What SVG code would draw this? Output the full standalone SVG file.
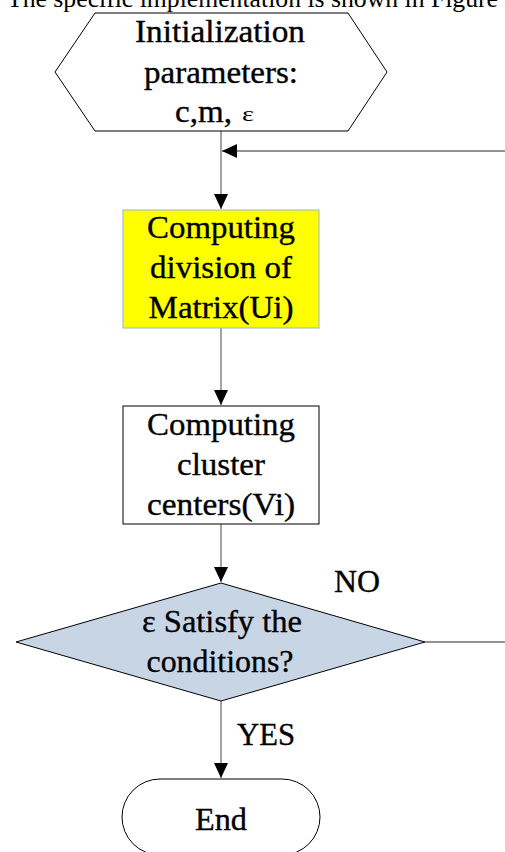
<svg xmlns="http://www.w3.org/2000/svg" width="505" height="852" viewBox="0 0 505 852" font-family="'Liberation Serif', 'Times New Roman', Tinos, 'DejaVu Serif', serif">
<style>
  text { font-family: 'Liberation Serif', 'Times New Roman', Tinos, 'DejaVu Serif', serif; fill: #000; }
  .t { font-size: 32px; text-anchor: middle; stroke: #000; stroke-width: 0.35; }
  .l { font-size: 32px; stroke: #000; stroke-width: 0.35; }
  .shape { stroke: #000; stroke-width: 1; }
  .conn { fill: none; stroke: #707070; stroke-width: 1.3; }
</style>
<defs>
  <marker id="arrow" markerUnits="userSpaceOnUse" markerWidth="16" markerHeight="14" refX="15" refY="7" orient="auto">
    <path d="M0,0 L15,7 L0,14 Z" fill="#000"/>
  </marker>
</defs>
<rect width="505" height="852" fill="#fff"/>
<text x="7" y="6.5" font-size="26" textLength="491" lengthAdjust="spacingAndGlyphs">The specific implementation is shown in Figure</text>

<g id="connectors">
  <path class="conn" d="M221,131 V209" marker-end="url(#arrow)"/>
  <path class="conn" d="M425,642 H512 V151 H222" marker-end="url(#arrow)"/>
  <path class="conn" d="M221,328 V405" marker-end="url(#arrow)"/>
  <path class="conn" d="M221,524 V582" marker-end="url(#arrow)"/>
  <path class="conn" d="M221,701 V778" marker-end="url(#arrow)"/>
</g>

<g id="init">
  <polygon class="shape" fill="#fff" points="55,72 95,13 348,13 387,72 348,131 95,131"/>
  <text class="t" x="220" y="42" textLength="170" lengthAdjust="spacingAndGlyphs">Initialization</text>
  <text class="t" x="221" y="83" textLength="154" lengthAdjust="spacingAndGlyphs">parameters:</text>
  <text class="l" x="175" y="122" textLength="57" lengthAdjust="spacingAndGlyphs">c,m,</text>
  <text x="242" y="121" font-size="20" textLength="12" lengthAdjust="spacingAndGlyphs">ε</text>
</g>

<g id="matrix">
  <rect x="123" y="210" width="196" height="118" fill="#ffff00" stroke="#95b3d7" stroke-width="1"/>
  <text class="t" x="221" y="238" textLength="148" lengthAdjust="spacingAndGlyphs">Computing</text>
  <text class="t" x="221" y="278" textLength="142" lengthAdjust="spacingAndGlyphs">division of</text>
  <text class="t" x="221" y="318" textLength="145" lengthAdjust="spacingAndGlyphs">Matrix(Ui)</text>
</g>

<g id="centers">
  <rect class="shape" x="123" y="406" width="196" height="118" fill="#fff"/>
  <text class="t" x="221" y="435" textLength="148" lengthAdjust="spacingAndGlyphs">Computing</text>
  <text class="t" x="221" y="475" textLength="88" lengthAdjust="spacingAndGlyphs">cluster</text>
  <text class="t" x="221" y="515" textLength="148" lengthAdjust="spacingAndGlyphs">centers(Vi)</text>
</g>

<g id="decision">
  <polygon class="shape" fill="#c8d5e5" points="221,583 425,642 221,701 16,642"/>
  <text class="t" x="222" y="632" textLength="160" lengthAdjust="spacingAndGlyphs">ε Satisfy the</text>
  <text class="t" x="220" y="672" textLength="147" lengthAdjust="spacingAndGlyphs">conditions?</text>
</g>

<g id="labels">
  <text class="l" x="334" y="592" textLength="46" lengthAdjust="spacingAndGlyphs">NO</text>
  <text class="l" x="237" y="745" textLength="58" lengthAdjust="spacingAndGlyphs">YES</text>
</g>

<g id="end">
  <rect class="shape" x="122" y="779" width="198" height="76" rx="38" ry="38" fill="#fff"/>
  <text class="t" x="221" y="830" textLength="52" lengthAdjust="spacingAndGlyphs">End</text>
</g>
</svg>
